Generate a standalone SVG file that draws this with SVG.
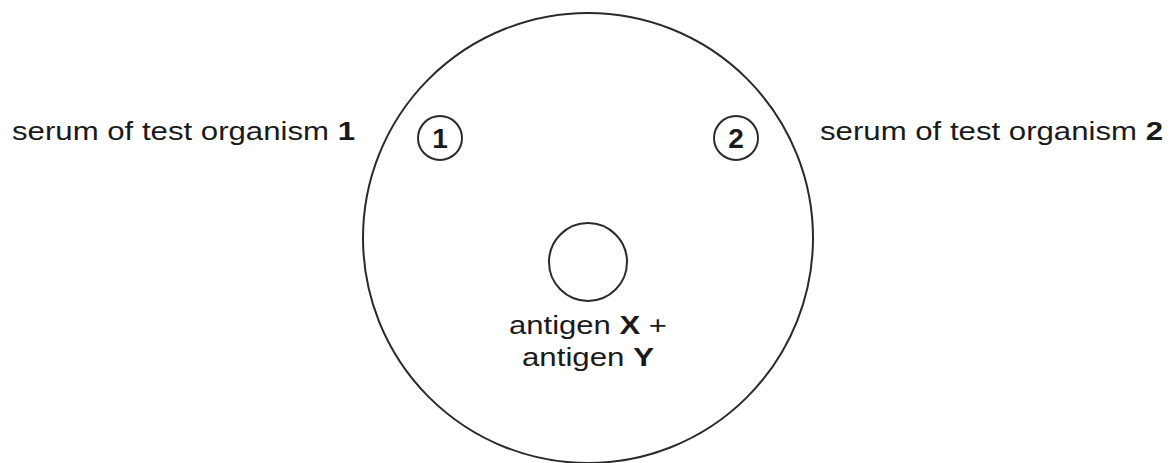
<svg xmlns="http://www.w3.org/2000/svg" width="1176" height="463" viewBox="0 0 1176 463">
<style>
.ring{fill:none;stroke:#2a2a2a;stroke-width:2}
.lbl{font-family:"Liberation Sans",Arial,sans-serif;font-size:26px;fill:#1a1a1a}
.num{font-family:"Liberation Sans",Arial,sans-serif;font-size:28px;font-weight:bold;fill:#1a1a1a}
.b{font-weight:bold}
</style>
<rect width="1176" height="463" fill="#ffffff"/>
<g id="plate"><circle class="ring" cx="588" cy="238" r="225"/></g>
<g id="well1"><circle class="ring" cx="440" cy="138" r="22"/><text class="num" x="440" y="148" text-anchor="middle">1</text></g>
<g id="well2"><circle class="ring" cx="736" cy="138" r="22"/><text class="num" x="736" y="148" text-anchor="middle">2</text></g>
<g id="wellC"><circle class="ring" cx="588" cy="262" r="39"/>
<text class="lbl" x="509" y="334" textLength="158" lengthAdjust="spacingAndGlyphs">antigen <tspan class="b">X</tspan> +</text>
<text class="lbl" x="522" y="366" textLength="132" lengthAdjust="spacingAndGlyphs">antigen <tspan class="b">Y</tspan></text></g>
<g id="label1"><text class="lbl" x="12" y="140" textLength="343" lengthAdjust="spacingAndGlyphs">serum of test organism <tspan class="b">1</tspan></text></g>
<g id="label2"><text class="lbl" x="820" y="140" textLength="343" lengthAdjust="spacingAndGlyphs">serum of test organism <tspan class="b">2</tspan></text></g>
<g id="connectors"></g>
</svg>
